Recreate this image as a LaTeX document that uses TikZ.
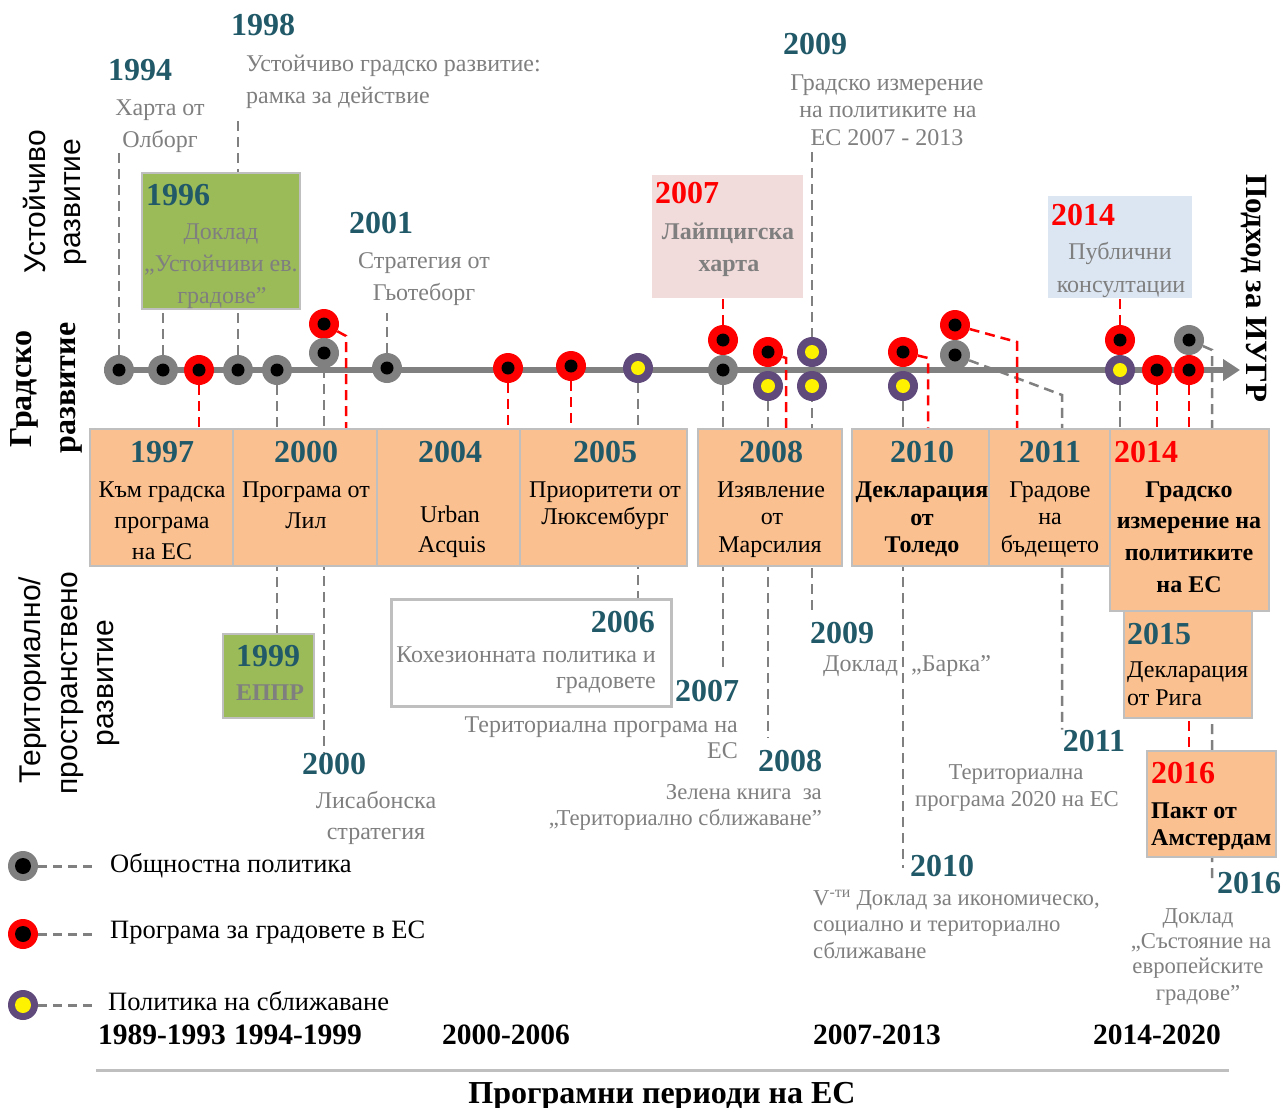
\documentclass[tikz,border=0pt]{standalone}
\usepackage{fontspec}
\setmainfont{Liberation Serif}
\newfontfamily\sansf{Liberation Sans}
\usetikzlibrary{arrows.meta}
\pgfdeclarelayer{bg}
\pgfsetlayers{bg,main}
\definecolor{yteal}{HTML}{215968}
\definecolor{tgray}{HTML}{7F7F7F}
\definecolor{dgray}{HTML}{808080}
\definecolor{dpurple}{HTML}{604A7B}
\definecolor{ofill}{HTML}{FAC090}
\definecolor{gfill}{HTML}{9BBB59}
\definecolor{pfill}{HTML}{F2DCDB}
\definecolor{bfill}{HTML}{DCE6F2}
\definecolor{bord}{HTML}{BFBFBF}
\newcommand\fsz[1]{\fontsize{#1}{#1}\selectfont}
\tikzset{
  yr/.style={font=\fsz{32}\bfseries, text=yteal, inner sep=0pt, anchor=base},
  yrr/.style={yr, text=red},
  gt/.style={font=\fsz{24}, text=tgray, inner sep=0pt, anchor=base},
  gts/.style={gt, font=\fsz{22.7}},
  gtb/.style={gt, font=\fsz{24}\bfseries},
  bt/.style={font=\fsz{24}, text=black, inner sep=0pt, anchor=base},
  btb/.style={bt, font=\fsz{24}\bfseries},
  legt/.style={bt, font=\fsz{26.5}},
  per/.style={font=\fsz{29.5}\bfseries, text=black, inner sep=0pt, anchor=base},
  sidel/.style={font=\sansf\fsz{30}, text=black, inner sep=0pt, anchor=center},
  sideb/.style={font=\fsz{32}\bfseries, text=black, inner sep=0pt, anchor=center},
  box/.style={draw=bord, line width=1.5pt, inner sep=0pt, anchor=north west},
  dotx/.style n args={3}{circle, minimum size=30pt, inner sep=0pt, fill=#1,
     path picture={\fill[#2] (path picture bounding box.center) circle[radius=#3];}},
  dotg/.style={dotx={dgray}{black}{6.5pt}},
  dotr/.style={dotx={red}{black}{6.5pt}},
  dotp/.style={dotx={dpurple}{yellow}{7pt}},
  gd/.style={draw=dgray, line width=2.5pt, dash pattern=on 10pt off 6pt},
  rd/.style={draw=red, line width=2.5pt, dash pattern=on 10pt off 6pt},
  legd/.style={draw=dgray, line width=3pt, dash pattern=on 9pt off 6pt},
}
\begin{document}
\begin{tikzpicture}[x=1pt,y=-1pt]
\path[use as bounding box] (0,0) rectangle (1282,1108);

% ---------- boxes ----------
\node[box, fill=gfill, minimum width=158pt, minimum height=136pt] (b1996) at (141,172) {};
\node[box, draw=none, fill=pfill, minimum width=151pt, minimum height=123pt] (b2007p) at (651,174) {};
\node[box, draw=none, fill=bfill, minimum width=144pt, minimum height=102pt] (b2014p) at (1047,195) {};
\node[box, fill=ofill, minimum width=143pt, minimum height=137pt] (b1997) at (89,428) {};
\node[box, fill=ofill, minimum width=144pt, minimum height=137pt] (b2000) at (232,428) {};
\node[box, fill=ofill, minimum width=143pt, minimum height=137pt] (b2004) at (376,428) {};
\node[box, fill=ofill, minimum width=167pt, minimum height=137pt] (b2005) at (519,428) {};
\node[box, fill=ofill, minimum width=144pt, minimum height=137pt] (b2008) at (697,428) {};
\node[box, fill=ofill, minimum width=137pt, minimum height=137pt] (b2010) at (851,428) {};
\node[box, fill=ofill, minimum width=121pt, minimum height=137pt] (b2011) at (988,428) {};
\node[box, fill=ofill, minimum width=159pt, minimum height=182pt] (b2014) at (1109,428) {};
\node[box, fill=ofill, minimum width=128pt, minimum height=107pt] (b2015) at (1123,610) {};
\node[box, fill=ofill, minimum width=129pt, minimum height=106pt] (b2016) at (1146,750) {};
\node[box, fill=gfill, minimum width=91pt, minimum height=84pt] (b1999) at (222,633) {};
\node[box, fill=white, line width=3pt, minimum width=280pt, minimum height=107pt] (b2006) at (390,598) {};

% ---------- top texts ----------
\node[yr] (y1994) at (140,81) {1994};
\node[gt] (t1994a) at (160,115) {Харта от};
\node[gt] (t1994b) at (160,147) {Олборг};
\node[yr] (y1998) at (263,36) {1998};
\node[gt, anchor=base west] (t1998a) at (246,71) {Устойчиво градско развитие:};
\node[gt, anchor=base west] (t1998b) at (246,103) {рамка за действие};
\node[yr, anchor=base west] (y1996) at (146,205) {1996};
\node[gt] (t1996a) at (221,239) {Доклад};
\node[gt] (t1996b) at (221,271) {„Устойчиви ев.};
\node[gt] (t1996c) at (222,303) {градове”};
\node[yr] (y2001) at (381,233) {2001};
\node[gt] (t2001a) at (424,268) {Стратегия от};
\node[gt] (t2001b) at (424,300) {Гьотеборг};
\node[yrr, anchor=base west] (y2007p) at (655,203) {2007};
\node[gtb] (t2007a) at (728,239) {Лайпцигска};
\node[gtb] (t2007b) at (729,271) {харта};
\node[yr] (y2009) at (815,55) {2009};
\node[gt] (t2009a) at (887,90) {Градско измерение};
\node[gt] (t2009b) at (888,117) {на политиките на};
\node[gt] (t2009c) at (887,145) {ЕС 2007 - 2013};
\node[yrr, anchor=base west] (y2014p) at (1051,225) {2014};
\node[gt] (t2014a) at (1120,259) {Публични};
\node[gt] (t2014b) at (1121,292) {консултации};

% ---------- orange row texts ----------
\node[yr] (y1997) at (162,462) {1997};
\node[bt] (s1997a) at (162,497) {Към градска};
\node[bt] (s1997b) at (162,528) {програма};
\node[bt] (s1997c) at (162,559) {на ЕС};
\node[yr] (y2000) at (306,462) {2000};
\node[bt] (s2000a) at (306,497) {Програма от};
\node[bt] (s2000b) at (306,528) {Лил};
\node[yr] (y2004) at (450,462) {2004};
\node[bt] (s2004a) at (450,522) {Urban};
\node[bt] (s2004b) at (452,552) {Acquis};
\node[yr] (y2005) at (605,462) {2005};
\node[bt] (s2005a) at (605,497) {Приоритети от};
\node[bt] (s2005b) at (605,524) {Люксембург};
\node[yr] (y2008) at (771,462) {2008};
\node[bt] (s2008a) at (771,497) {Изявление};
\node[bt] (s2008b) at (772,524) {от};
\node[bt] (s2008c) at (770,552) {Марсилия};
\node[yr] (y2010) at (922,462) {2010};
\node[btb] (s2010a) at (922,497) {Декларация};
\node[btb] (s2010b) at (922,525) {от};
\node[btb] (s2010c) at (922,552) {Толедо};
\node[yr] (y2011) at (1050,462) {2011};
\node[bt] (s2011a) at (1050,497) {Градове};
\node[bt] (s2011b) at (1050,524) {на};
\node[bt] (s2011c) at (1050,552) {бъдещето};
\node[yrr, anchor=base west] (y2014) at (1114,462) {2014};
\node[btb] (s2014a) at (1189,497) {Градско};
\node[btb] (s2014b) at (1189,528) {измерение на};
\node[btb] (s2014c) at (1189,560) {политиките};
\node[btb] (s2014d) at (1189,592) {на ЕС};
\node[yr, anchor=base west] (y2015) at (1127,644) {2015};
\node[bt, anchor=base west] (s2015a) at (1127,677) {Декларация};
\node[bt, anchor=base west] (s2015b) at (1127,705) {от Рига};
\node[yrr, anchor=base west] (y2016) at (1151,783) {2016};
\node[btb, anchor=base west] (s2016a) at (1151,818) {Пакт от};
\node[btb, anchor=base west] (s2016b) at (1151,845) {Амстердам};

% ---------- lower texts ----------
\node[yr] (y1999) at (268,666) {1999};
\node[gtb] (t1999) at (270,700) {ЕППР};
\node[yr, anchor=base east] (y2006) at (655,632) {2006};
\node[gt, anchor=base east] (t2006a) at (656,662) {Кохезионната политика и};
\node[gt, anchor=base east] (t2006b) at (656,688) {градовете};
\node[yr] (y2000b) at (334,774) {2000};
\node[gt] (t2000a) at (376,808) {Лисабонска};
\node[gt] (t2000b) at (376,839) {стратегия};
\node[yr] (y2007b) at (707,701) {2007};
\node[gt, anchor=base east] (t2007c) at (738,732) {Териториална програма на};
\node[gt, anchor=base east] (t2007d) at (738,758) {ЕС};
\node[yr] (y2008b) at (790,771) {2008};
\node[gts, anchor=base east] (t2008a) at (822,799) {Зелена книга\enspace за};
\node[gts, anchor=base east] (t2008b) at (822,825) {„Териториално сближаване”};
\node[yr] (y2009b) at (842,643) {2009};
\node[gt, anchor=base west] (t2009d) at (823,671) {Доклад};
\node[gt, anchor=base west] (t2009e) at (911,671) {„Барка”};
\node[yr] (y2011b) at (1094,751) {2011};
\node[gts] (t2011a) at (1016,779) {Териториална};
\node[gts] (t2011b) at (1017,806) {програма 2020 на ЕС};
\node[yr] (y2010b) at (942,876) {2010};
\node[gts, anchor=base west] (t2010a) at (813,905) {V\textsuperscript{-ти} Доклад за икономическо,};
\node[gts, anchor=base west] (t2010b) at (813,931) {социално и териториално};
\node[gts, anchor=base west] (t2010c) at (813,958) {сближаване};
\node[yr] (y2016b) at (1249,893) {2016};
\node[gts] (t2016a) at (1198,923) {Доклад};
\node[gts] (t2016b) at (1201,948) {„Състояние на};
\node[gts] (t2016c) at (1198,973) {европейските};
\node[gts] (t2016d) at (1198,1000) {градове”};

% ---------- side labels ----------
\node[sidel, rotate=90] (sl1) at (35,202) {Устойчиво};
\node[sidel, rotate=90] (sl2) at (76,202) {развитие};
\node[sideb, rotate=90] (sl3) at (24,389) {Градско};
\node[sideb, rotate=90] (sl4) at (71,388) {развитие};
\node[sidel, rotate=90] (sl5) at (33,680) {Териториално/};
\node[sidel, rotate=90] (sl6) at (73,683) {пространствено};
\node[sidel, rotate=90] (sl7) at (109,683) {развитие};
\node[sideb, font=\fsz{31}\bfseries, rotate=-90] (sr1) at (1254,288) {Подход за ИУГР};

% ---------- legend ----------
\node[dotx={dgray}{black}{8pt}] (lg1) at (23,866) {};
\node[dotx={red}{black}{8pt}] (lg2) at (23,934) {};
\node[dotx={dpurple}{yellow}{8pt}] (lg3) at (23,1005) {};
\node[legt, anchor=base west] (lt1) at (110,872) {Общностна политика};
\node[legt, anchor=base west] (lt2) at (110,938) {Програма за градовете в ЕС};
\node[legt, anchor=base west] (lt3) at (108,1010) {Политика на сближаване};

% ---------- periods ----------
\node[per] (pe1) at (162,1044) {1989-1993};
\node[per] (pe2) at (298,1044) {1994-1999};
\node[per] (pe3) at (506,1044) {2000-2006};
\node[per] (pe4) at (877,1044) {2007-2013};
\node[per] (pe5) at (1157,1044) {2014-2020};
\coordinate (plA) at (96,1070);
\coordinate (plB) at (1229,1070);
\node[per, font=\fsz{32}\bfseries] (ptitle) at (662,1103) {Програмни периоди на ЕС};

% ---------- dots ----------
\node[dotg] (g1) at (119,370) {};
\node[dotg] (g2) at (163,370) {};
\node[dotr] (r1) at (199,370) {};
\node[dotg] (g3) at (238,370) {};
\node[dotg] (g4) at (277,370) {};
\node[dotr] (r2) at (324,324) {};
\node[dotg] (g5) at (324,353) {};
\node[dotg] (g6) at (387,368) {};
\node[dotr] (r3) at (508,368) {};
\node[dotr] (r4) at (571,366) {};
\node[dotp] (p1) at (638,368) {};
\node[dotr] (r5) at (723,340) {};
\node[dotg] (g7) at (723,370) {};
\node[dotr] (r6) at (768,352) {};
\node[dotp] (p2) at (768,386) {};
\node[dotp] (p3) at (812,352) {};
\node[dotp] (p4) at (812,386) {};
\node[dotr] (r7) at (903,352) {};
\node[dotp] (p5) at (903,386) {};
\node[dotr] (r8) at (955,325) {};
\node[dotg] (g8) at (955,355) {};
\node[dotr] (r9) at (1120,340) {};
\node[dotp] (p6) at (1120,370) {};
\node[dotr] (r10) at (1157,370) {};
\node[dotg] (g9) at (1189,340) {};
\node[dotr] (r11) at (1189,370) {};

\coordinate (tlA) at (104,370);
\coordinate (tlB) at (1240,370);
\coordinate (k2) at (346,336);
\coordinate (k6) at (786,358);
\coordinate (k7) at (928,358);
\coordinate (k8) at (1017,342);
\coordinate (k9) at (1062,395);
\coordinate (k10) at (1212,350);

\begin{pgfonlayer}{bg}
\draw[dgray, line width=6pt, -{Triangle[length=17pt,width=21pt]}] (tlA) -- (tlB);
\draw[bord, line width=3pt] (plA) -- (plB);
% gray connectors
\draw[gd] (g1) -- (g1 |- t1994b.south);
\draw[gd] (g2) -- (g2 |- b1996.south);
\draw[gd, shorten >=9pt] (g3) -- (g3 |- t1998b.south);
\draw[gd] (g4) -- (g4 |- b1999.north);
\draw[gd] (g5) -- (g5 |- y2000b.north);
\draw[gd, shorten >=8pt] (g6) -- (g6 |- t2001b.south);
\draw[gd] (p1) -- (p1 |- b2006.north);
\draw[gd, shorten >=11pt] (g7) -- (g7 |- y2007b.north);
\draw[gd, shorten >=12pt] (p2) -- (p2 |- y2008b.north);
\draw[gd, shorten <=7pt, shorten >=9pt] (p3 |- t2009c.south) -- (p3 |- y2009b.north);
\draw[gd, shorten >=8pt] (p5) -- (p5 |- y2010b.base);
\draw[gd] (g8) -- (k9) -- (k9 |- y2011b.north);
\draw[gd] (p6) -- (p6 |- b2014.north);
\draw[gd, shorten >=9pt] (g9) -- (k10) -- (k10 |- y2016b.base);
% red connectors
\draw[rd] (r1) -- (r1 |- b1997.north);
\draw[rd] (r2) -- (k2) -- (k2 |- b2000.north);
\draw[rd] (r3) -- (r3 |- b2004.north);
\draw[rd] (r4) -- (r4 |- b2005.north);
\draw[rd] (r5) -- (r5 |- b2007p.south);
\draw[rd] (r6) -- (k6) -- (k6 |- b2008.north);
\draw[rd] (r7) -- (k7) -- (k7 |- b2010.north);
\draw[rd] (r8) -- (k8) -- (k8 |- b2011.north);
\draw[rd] (r9) -- (r9 |- b2014p.south);
\draw[rd] (r10) -- (r10 |- b2014.north);
\draw[rd] (r11) -- (r11 |- b2016.north);
% legend
\draw[legd, shorten >=12pt] (lg1) -- (lg1 -| lt1.west);
\draw[legd, shorten >=12pt] (lg2) -- (lg2 -| lt2.west);
\draw[legd, shorten >=10pt] (lg3) -- (lg3 -| lt3.west);
\end{pgfonlayer}
\end{tikzpicture}
\end{document}
